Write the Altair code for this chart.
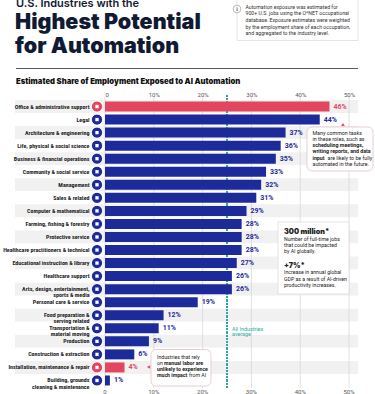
import altair as alt
import pandas as pd

# ---------------- data ----------------
industries = [
    "Office & administrative support", "Legal", "Architecture & engineering",
    "Life, physical & social science", "Business & financial operations",
    "Community & social service", "Management", "Sales & related",
    "Computer & mathematical", "Farming, fishing & forestry", "Protective service",
    "Healthcare practitioners & technical", "Educational instruction & library",
    "Healthcare support", "Arts, design, entertainment,|sports & media",
    "Personal care & service", "Food preparation &|serving related",
    "Transportation &|material moving", "Production", "Construction & extraction",
    "Installation, maintenance & repair", "Building, grounds|cleaning & maintenance",
]
shares = [46, 44, 37, 36, 35, 33, 32, 31, 29, 28, 28, 28, 27, 26, 26, 19, 12, 11, 9, 6, 4, 1]
highlighted = ["Office & administrative support", "Installation, maintenance & repair"]
tick_values = [0, 10, 20, 30, 40, 50]
average_share = 25

title_lines = ["U.S. Industries with the", "Highest Potential", "for Automation"]
subtitle = "Estimated Share of Employment Exposed to AI Automation"
info_lines = [
    "Automation exposure was estimated for",
    "900+ U.S. jobs using the O*NET occupational",
    "database. Exposure estimates were weighted",
    "by the employment share of each occupation,",
    "and aggregated to the industry level.",
]
note1_lines = ["Many common tasks", "in these roles, such as", "scheduling meetings,",
               "writing reports, and data", "input", "are likely to be fully",
               "automated in the future."]
note2_lines = ["300 million*", "Number of full-time jobs", "that could be impacted",
               "by AI globally.", "+7%*", "Increase in annual global",
               "GDP as a result of AI-driven", "productivity increases."]
note3_lines = ["Industries that rely", "on", "manual labor are", "unlikely to experience",
               "much impact", "from AI"]
avg_label = "All Industries|average"

# ---------------- layout ----------------
PL, PT = 105, 100
W, H = 251, 287
XMAX = 51.43
NAVY = "#1d2a9a"
RED = "#e2475f"
DARK = "#111a33"
TEAL = "#2eaaa0"
FONT = "Roboto"
LABEL_FONT = "Liberation Sans Narrow, Roboto Condensed, Roboto"
HEAVY = "Inter"

def rx(px):
    return px - PL

def ry(py):
    return py - PT

df = pd.DataFrame({
    "industry": industries,
    "share": shares,
    "hl": ["red" if i in highlighted else "navy" for i in industries],
    "band": ["g" if k % 2 == 0 else "w" for k in range(len(industries))],
})
ticks_df = pd.DataFrame({"v": tick_values})

y_enc = alt.Y(
    "industry:N", sort=industries,
    scale=alt.Scale(paddingInner=0, paddingOuter=0),
    axis=alt.Axis(title=None, labelExpr="split(datum.label,'|')", labelPadding=16,
                  ticks=False, tickSize=0, domain=False, labelFontSize=6,
                  labelFont=LABEL_FONT, labelFontWeight="bold", labelColor="#1e1e1e",
                  labelLineHeight=6.2, labelLimit=200),
)
x_scale = alt.Scale(domain=[0, XMAX], nice=False)
hl_color = alt.condition(alt.datum.hl == "red", alt.value(RED), alt.value(NAVY))

base = alt.Chart(df)

bands = base.mark_rect().encode(
    y=y_enc, x=alt.value(rx(15)), x2=alt.value(rx(358)),
    color=alt.condition(alt.datum.band == "g", alt.value("#f1f1f1"), alt.value("#ffffff")),
)

grid = alt.Chart(ticks_df).mark_rule(color="#d4d4d4", strokeWidth=0.7).encode(
    x=alt.X("v:Q", scale=x_scale), y=alt.value(-3), y2=alt.value(H + 1))

bars = base.mark_bar(size=10).encode(
    y=y_enc,
    x=alt.X("share:Q", scale=x_scale,
            axis=alt.Axis(orient="top", values=tick_values, title=None, grid=False, ticks=False,
                          domain=False, labelFontSize=6, labelColor="#555", labelFont=FONT,
                          labelPadding=3,
                          labelExpr="datum.value == 0 ? '0' : datum.value + '%'")),
    color=hl_color,
)

pct = base.transform_calculate(lbl="datum.share + '%'").mark_text(
    align="left", dx=4, fontSize=7, fontWeight="bold", font=FONT).encode(
    y=y_enc, x=alt.X("share:Q", scale=x_scale), text="lbl:N", color=hl_color)

icons = base.mark_point(filled=True, opacity=1, size=115).encode(
    y=y_enc, x=alt.value(rx(97)), color=hl_color)
icon_ring = base.mark_point(filled=False, size=125, color="white", strokeWidth=0.8, opacity=1).encode(
    y=y_enc, x=alt.value(rx(97)))
icon_glyph = base.mark_point(filled=True, shape="square", size=11, color="white", opacity=1).encode(
    y=y_enc, x=alt.value(rx(97)))

bottom_lbl = alt.Chart(ticks_df).transform_calculate(
    t="datum.v == 0 ? '0' : datum.v + '%'"
).mark_text(fontSize=6, color="#555", font=FONT, baseline="middle").encode(
    x=alt.X("v:Q", scale=x_scale), y=alt.value(ry(392)), text="t:N")

avg_rule = alt.Chart(df).mark_rule(color=TEAL, strokeDash=[1.4, 1.8], strokeWidth=1.2).encode(
    x=alt.datum(average_share, scale=x_scale), y=alt.value(-5), y2=alt.value(H + 1))


def txt(s, x, y, size=5.4, weight="normal", color="#333", align="left", baseline="middle", font=FONT):
    return alt.Chart(df.head(1)).mark_text(
        text=s, fontSize=size, fontWeight=weight, color=color, align=align,
        baseline=baseline, font=font).encode(x=alt.value(rx(x)), y=alt.value(ry(y)))


def box(x1, y1, x2, y2, stroke="#d9d9d9", radius=0, sw=0.8):
    return alt.Chart(df.head(1)).mark_rect(fill="white", stroke=stroke, strokeWidth=sw,
                                           cornerRadius=radius).encode(
        x=alt.value(rx(x1)), x2=alt.value(rx(x2)), y=alt.value(ry(y1)), y2=alt.value(ry(y2)))


layers = [bands, grid, avg_rule, bars, pct, icons, icon_ring, icon_glyph, bottom_lbl]

# title block
layers += [
    txt(title_lines[0], 16, 6.5, size=11, weight=600, color=DARK, baseline="alphabetic", font=HEAVY),
    txt(title_lines[1], 15, 29, size=21.5, weight=900, color=DARK, baseline="alphabetic", font=HEAVY),
    txt(title_lines[2], 15, 52.5, size=21.5, weight=900, color=DARK, baseline="alphabetic", font=HEAVY),
]
# info box
layers += [box(237, -2, 358, 40.5, stroke="#dddddd")]
layers += [alt.Chart(df.head(1)).mark_point(filled=True, fill="white", stroke="#999", strokeWidth=0.7,
                                            size=60, opacity=1).encode(x=alt.value(rx(237)), y=alt.value(ry(9)))]
layers += [txt("i", 237, 9.3, size=5.5, weight="bold", color="#777", align="center", font="DejaVu Serif")]
for k, line in enumerate(info_lines):
    layers.append(txt(line, 245.5, 6.6 + k * 6.7, size=5.2, color="#333"))

# divider + subtitle
layers += [alt.Chart(df.head(1)).mark_rule(color="#555a66", strokeWidth=1).encode(
    x=alt.value(rx(16)), x2=alt.value(rx(358)), y=alt.value(ry(68.5)))]
layers += [txt(subtitle, 16, 83.5, size=7.7, weight=900, color="#111", baseline="alphabetic", font=HEAVY)]

# note 1
layers += [box(307, 127, 373, 171, stroke="#e3c3c9", radius=5)]
layers += [alt.Chart(df.head(1)).mark_point(shape="triangle-up", filled=True, color=RED, size=14, opacity=1).encode(
    x=alt.value(rx(343)), y=alt.value(ry(124.5)))]
n1y = [132.7, 138.8, 145.2, 151.4, 157.8, 157.8, 164.1]
n1x = [312.5, 312.5, 312.5, 312.5, 312.5, 327.5, 312.5]
n1w = ["normal", "normal", "bold", "bold", "bold", "normal", "normal"]
for s, x, y, w in zip(note1_lines, n1x, n1y, n1w):
    layers.append(txt(s, x, y, size=5.3, weight=w, color="#222"))

# note 2
layers += [box(278, 222, 349, 294, stroke="#dcdcdc")]
n2y = [232, 238.8, 245, 251.3, 266, 272.3, 278.5, 285]
n2s = [7.2, 5.2, 5.2, 5.2, 7.2, 5.2, 5.2, 5.2]
n2w = [900, "normal", "normal", "normal", 900, "normal", "normal", "normal"]
for s, y, sz, w in zip(note2_lines, n2y, n2s, n2w):
    layers.append(txt(s, 284, y, size=sz, weight=w, color="#222", font=HEAVY if sz > 6 else FONT))

# note 3
layers += [box(151, 349.5, 211, 386, stroke="#e3c3c9", radius=5)]
layers += [alt.Chart(df.head(1)).mark_point(shape="triangle-left", filled=True, color=RED, size=14, opacity=1).encode(
    x=alt.value(rx(148.5)), y=alt.value(ry(367)))]
n3x = [157, 157, 164, 157, 157, 189]
n3y = [357, 363, 363, 369, 375, 375]
n3w = ["normal", "normal", "bold", "bold", "bold", "normal"]
for s, x, y, w in zip(note3_lines, n3x, n3y, n3w):
    layers.append(txt(s, x, y, size=5.2, weight=w, color="#222"))

# average label
layers.append(alt.Chart(pd.DataFrame({"t": [avg_label]})).transform_calculate(
    lines="split(datum.t, '|')").mark_text(fontSize=5.4, color=TEAL, font=FONT, align="left",
                                           baseline="middle", lineHeight=5.6).encode(
    x=alt.value(rx(232)), y=alt.value(ry(328.5)), text="lines:N"))

chart = alt.layer(*layers).properties(
    width=W, height=H,
    autosize=alt.AutoSizeParams(type="none"),
    padding={"left": PL, "top": PT, "right": 375 - PL - W, "bottom": 394 - PT - H},
    background="white",
).configure_view(stroke=None)

chart.save("out.html", embed_options={"renderer": "svg", "actions": False})
